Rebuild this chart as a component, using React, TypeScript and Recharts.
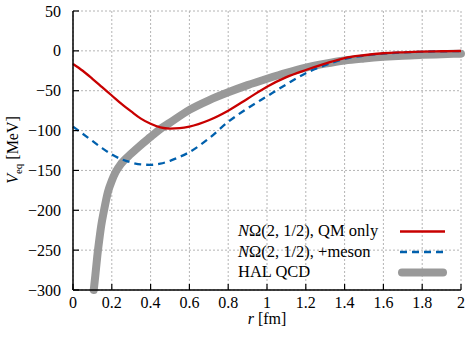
import React from 'react';
import { LineChart, Line, XAxis, YAxis, CartesianGrid, Legend } from 'recharts';

const rQM = [0, 0.05, 0.1, 0.15, 0.2, 0.25, 0.3, 0.35, 0.4, 0.45, 0.5, 0.55, 0.6, 0.7, 0.8, 0.9, 1.0, 1.1, 1.2, 1.3, 1.4, 1.5, 1.6, 1.7, 1.8, 1.9, 2.0];
const vQM = [-16.5, -25, -35, -45.5, -56, -66.5, -76, -85, -91.5, -96, -97.5, -97, -95, -87, -75, -60, -45, -33, -24, -16, -9, -5.5, -3, -1.8, -1, -0.5, -0.2];

const rMeson = [0, 0.05, 0.1, 0.15, 0.2, 0.25, 0.3, 0.35, 0.4, 0.45, 0.5, 0.55, 0.6, 0.7, 0.8, 0.9, 1.0, 1.1, 1.2, 1.3, 1.4, 1.5, 1.6, 1.7, 1.8, 1.9, 2.0];
const vMeson = [-95, -104, -113, -122, -130, -136, -140, -142.5, -143, -141.5, -138, -133, -127, -110, -89, -72, -57, -42, -28, -18, -10, -6, -3.5, -2, -1.2, -0.6, -0.3];

const rHAL = [0.107, 0.115, 0.125, 0.135, 0.145, 0.16, 0.18, 0.2, 0.22, 0.25, 0.3, 0.35, 0.4, 0.45, 0.5, 0.6, 0.7, 0.8, 0.9, 1.0, 1.1, 1.2, 1.3, 1.4, 1.5, 1.6, 1.7, 1.8, 1.9, 2.0];
const vHAL = [-300, -282, -258, -238, -220, -200, -177, -163, -152, -141, -129, -118, -108, -98, -90, -74, -62, -52, -43, -35, -27.5, -21, -16, -12, -9.5, -7.5, -6, -5, -4.2, -3.5];

const xTicks = [0, 0.2, 0.4, 0.6, 0.8, 1, 1.2, 1.4, 1.6, 1.8, 2];
const yTicks = [50, 0, -50, -100, -150, -200, -250, -300];

const seriesNames = ['QM only', '+meson', 'HAL QCD'];
const seriesColors = ['#c80000', '#0060ad', '#999999'];

const toPts = (rs: number[], vs: number[]) => rs.map((r, i) => ({ r, v: vs[i] }));
const dataQM = toPts(rQM, vQM);
const dataMeson = toPts(rMeson, vMeson);
const dataHAL = toPts(rHAL, vHAL);

const FONT = "'Liberation Serif', 'Times New Roman', serif";
const FS = 16;
const fmt = (v: number) => (v < 0 ? '\u2212' + Math.abs(v) : String(v));

const BottomTick = (p: any) => (
  <g>
    <line x1={p.x} x2={p.x} y1={p.y} y2={p.y - 6} stroke="#000" strokeWidth={1.2} />
    <text x={p.x} y={p.y + 17.5} textAnchor="middle" fontFamily={FONT} fontSize={FS} fill="#000">
      {fmt(p.payload.value)}
    </text>
  </g>
);
const TopTick = (p: any) => (
  <line x1={p.x} x2={p.x} y1={p.y} y2={p.y + 6} stroke="#000" strokeWidth={1.2} />
);
const LeftTick = (p: any) => (
  <g>
    <line x1={p.x} x2={p.x + 6} y1={p.y} y2={p.y} stroke="#000" strokeWidth={1.2} />
    <text x={p.x - 12} y={p.y + 5.5} textAnchor="end" fontFamily={FONT} fontSize={FS} fill="#000">
      {fmt(p.payload.value)}
    </text>
  </g>
);
const RightTick = (p: any) => (
  <line x1={p.x} x2={p.x - 6} y1={p.y} y2={p.y} stroke="#000" strokeWidth={1.2} />
);

const YLabel = () => (
  <text transform="translate(18,150) rotate(-90)" textAnchor="middle" fontFamily={FONT} fontSize={FS} fill="#000">
    <tspan fontStyle="italic">V</tspan>
    <tspan fontSize={11} dy={4}>eq</tspan>
    <tspan dy={-4}> [MeV]</tspan>
  </text>
);
const XLabel = () => (
  <text x={267} y={324} textAnchor="middle" fontFamily={FONT} fontSize={FS} fill="#000">
    <tspan fontStyle="italic">r</tspan>
    <tspan> [fm]</tspan>
  </text>
);

const LegendContent = () => {
  const baselines = [236, 256.5, 277];
  return (
    <svg width={469} height={339} style={{ position: 'absolute', left: 0, top: 0 }}>
      {seriesNames.map((name, i) => (
        <g key={name}>
          <text x={238} y={baselines[i]} fontFamily={FONT} fontSize={16.5} fill="#000">
            {i < 2 ? (
              <>
                <tspan fontStyle="italic">N</tspan>
                <tspan>{'Ω(2, 1/2), ' + name}</tspan>
              </>
            ) : (
              name
            )}
          </text>
          <line
            x1={i === 2 ? 402 : 400}
            x2={i === 2 ? 443 : 445}
            y1={baselines[i] - 4.5}
            y2={baselines[i] - 4.5}
            stroke={seriesColors[i]}
            strokeWidth={i === 2 ? 8 : 2.3}
            strokeDasharray={i === 1 ? '7 5' : undefined}
            strokeLinecap={i === 2 ? 'round' : 'butt'}
          />
        </g>
      ))}
    </svg>
  );
};

export default function App() {
  return (
    <div style={{ position: 'absolute', left: 0, top: 0, background: '#fff' }}>
      <LineChart width={469} height={339} margin={{ top: 11, right: 8, bottom: 0, left: 0 }}>
        <CartesianGrid xAxisId="b" yAxisId="l" stroke="#b4b4b4" strokeDasharray="2 2" strokeWidth={1} />
        <XAxis
          xAxisId="b"
          dataKey="r"
          type="number"
          domain={[0, 2]}
          ticks={xTicks}
          interval={0}
          height={49}
          tickSize={0}
          tickMargin={0}
          tick={<BottomTick />}
          axisLine={{ stroke: '#000', strokeWidth: 1.5 }}
          label={<XLabel />}
        />
        <XAxis
          xAxisId="t"
          orientation="top"
          dataKey="r"
          type="number"
          domain={[0, 2]}
          ticks={xTicks}
          interval={0}
          height={0}
          tickSize={0}
          tickMargin={0}
          tick={<TopTick />}
          axisLine={{ stroke: '#000', strokeWidth: 1.5 }}
        />
        <YAxis
          yAxisId="l"
          type="number"
          domain={[-300, 50]}
          ticks={yTicks}
          interval={0}
          width={73}
          tickSize={0}
          tickMargin={0}
          tick={<LeftTick />}
          axisLine={{ stroke: '#000', strokeWidth: 1.5 }}
          label={<YLabel />}
        />
        <YAxis
          yAxisId="r"
          orientation="right"
          type="number"
          domain={[-300, 50]}
          ticks={yTicks}
          interval={0}
          width={0}
          tickSize={0}
          tickMargin={0}
          tick={<RightTick />}
          axisLine={{ stroke: '#000', strokeWidth: 1.5 }}
        />
        <Line
          xAxisId="b"
          yAxisId="l"
          data={dataHAL}
          dataKey="v"
          name={seriesNames[2]}
          type="monotone"
          stroke={seriesColors[2]}
          strokeWidth={8}
          strokeLinecap="round"
          dot={false}
          activeDot={false}
          isAnimationActive={false}
        />
        <Line
          xAxisId="b"
          yAxisId="l"
          data={dataMeson}
          dataKey="v"
          name={seriesNames[1]}
          type="monotone"
          stroke={seriesColors[1]}
          strokeWidth={2.3}
          strokeDasharray="7 5"
          dot={false}
          activeDot={false}
          isAnimationActive={false}
        />
        <Line
          xAxisId="b"
          yAxisId="l"
          data={dataQM}
          dataKey="v"
          name={seriesNames[0]}
          type="monotone"
          stroke={seriesColors[0]}
          strokeWidth={2.3}
          dot={false}
          activeDot={false}
          isAnimationActive={false}
        />
        <Legend
          layout="horizontal"
          verticalAlign="middle"
          align="center"
          content={<LegendContent />}
          wrapperStyle={{ left: 0, top: 0, width: 469, height: 339, pointerEvents: 'none' }}
        />
      </LineChart>
    </div>
  );
}
